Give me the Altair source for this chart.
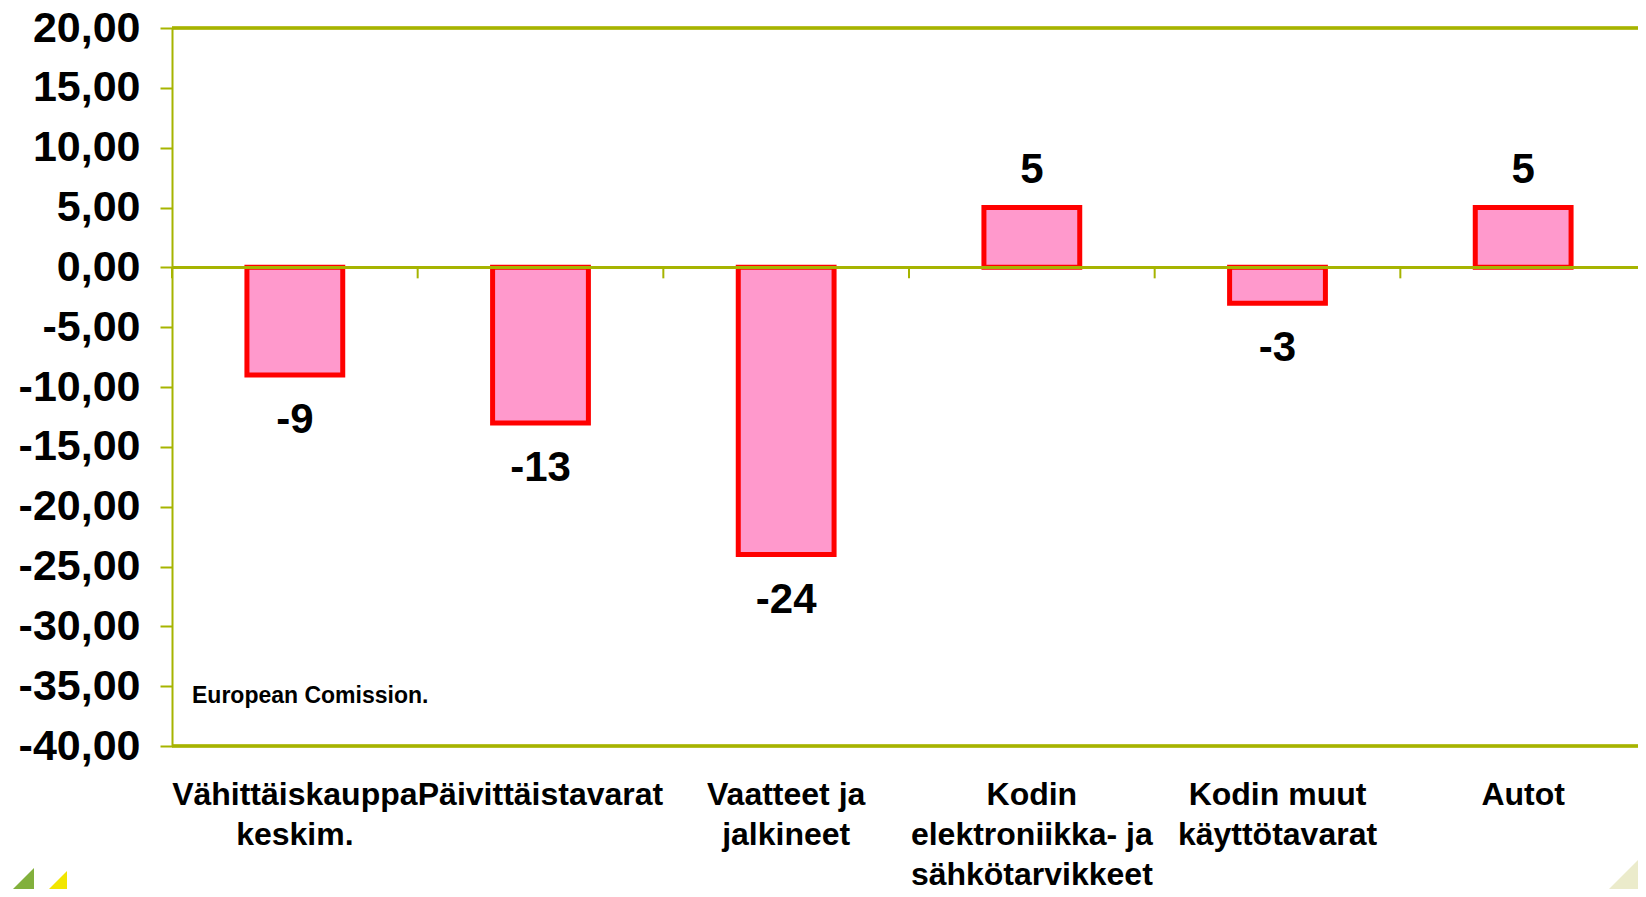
import altair as alt
import pandas as pd

# ---- data ----
categories = [
    "Vähittäiskauppa\nkeskim.",
    "Päivittäistavarat",
    "Vaatteet ja\njalkineet",
    "Kodin\nelektroniikka- ja\nsähkötarvikkeet",
    "Kodin muut\nkäyttötavarat",
    "Autot",
]
values = [-9, -13, -24, 5, -3, 5]
y_ticks = [-40, -35, -30, -25, -20, -15, -10, -5, 0, 5, 10, 15, 20]
source_note = "European Comission."

df = pd.DataFrame({"category": categories, "value": values})
df["label"] = [str(v) for v in values]

OLIVE = "#A6B400"
FONT = "Liberation Sans"
PINK = "#FF99CC"
RED = "#FF0000"

PAD_INNER = 0.61
PAD_OUTER = 0.305
X_RANGE = 1474

x_axis = alt.Axis(
    title=None, domain=False, ticks=False, labelAngle=0,
    labelFont=FONT, labelFontSize=32, labelFontWeight="bold", labelColor="black",
    labelLineHeight=40, labelPadding=33, labelLimit=0, labelOverlap=False,
    labelExpr="split(datum.label, '\\n')",
)
x_scale = alt.Scale(paddingInner=PAD_INNER, paddingOuter=PAD_OUTER, range=[0, X_RANGE])
x = alt.X("category:N", sort=categories, scale=x_scale, axis=x_axis)

y_axis = alt.Axis(
    title=None, values=y_ticks, grid=False,
    domainColor=OLIVE, domainWidth=2, tickColor=OLIVE, tickWidth=2, tickSize=12,
    labelFont=FONT, labelFontSize=43, labelFontWeight="bold", labelColor="black",
    labelPadding=20,
    labelExpr="(datum.value < 0 ? '-' : '') + replace(format(abs(datum.value), '.2f'), '.', ',')",
)
y = alt.Y("value:Q", scale=alt.Scale(domain=[-40, 20], nice=False, zero=False), axis=y_axis)

base = alt.Chart(df)

bars = base.mark_bar(fill=PINK, stroke=RED, strokeWidth=5, strokeJoin="miter").encode(
    x=x, y=y, y2=alt.datum(0)
)

zero_line = base.mark_rule(color=OLIVE, strokeWidth=2.5).encode(y=alt.datum(0))

# category separator ticks hanging below the zero line, at the step boundaries
step_px = X_RANGE / len(categories)
cat_ticks = base.mark_rule(color=OLIVE, strokeWidth=2, xOffset=-PAD_OUTER * step_px).encode(
    x=alt.X("category:N", sort=categories, scale=x_scale, axis=x_axis, bandPosition=0),
    y=alt.datum(0),
    y2=alt.datum(-0.92),
)

top_line = base.mark_rule(color=OLIVE, strokeWidth=2.5).encode(y=alt.datum(20))
bottom_line = base.mark_rule(color=OLIVE, strokeWidth=2.5).encode(y=alt.datum(-40))

pos_labels = base.transform_filter("datum.value > 0").mark_text(
    font=FONT, fontSize=42, fontWeight="bold", color="black", baseline="alphabetic", dy=-25
).encode(x=x, y=y, text="label:N")

neg_labels = base.transform_filter("datum.value < 0").mark_text(
    font=FONT, fontSize=42, fontWeight="bold", color="black", baseline="alphabetic", dy=58
).encode(x=x, y=y, text="label:N")

note = alt.Chart(pd.DataFrame({"note": [source_note]})).mark_text(
    align="left", baseline="alphabetic", font=FONT, fontSize=23, fontWeight="bold", color="black"
).encode(x=alt.value(20), y=alt.datum(-36.4), text="note:N")

# slide decorations (corner triangles)
tri_path = "M -1 1 L 1 -1 L 1 1 Z"
deco = alt.Chart(pd.DataFrame({"d": [0]}))
green_tri = deco.mark_point(shape=tri_path, filled=True, opacity=1, color="#82B03C", size=841).encode(
    x=alt.value(-152.5), y=alt.value(854.5))
yellow_tri = deco.mark_point(shape=tri_path, filled=True, opacity=1, color="#F2E600", size=729).encode(
    x=alt.value(-118.5), y=alt.value(856.5))
pale_tri = deco.mark_point(shape=tri_path, filled=True, opacity=1, color="#EBEBCB", size=2116).encode(
    x=alt.value(1451), y=alt.value(847))

chart = alt.layer(
    bars, zero_line, cat_ticks, top_line, bottom_line, pos_labels, neg_labels, note,
    green_tri, yellow_tri, pale_tri,
).properties(
    width=1466, height=718,
    autosize=alt.AutoSizeParams(type="none"),
    padding={"left": 164, "top": 20, "right": 0, "bottom": 143},
    background="white",
).configure_view(stroke="transparent")

chart.save("out.html", embed_options={"renderer": "svg", "actions": False})
